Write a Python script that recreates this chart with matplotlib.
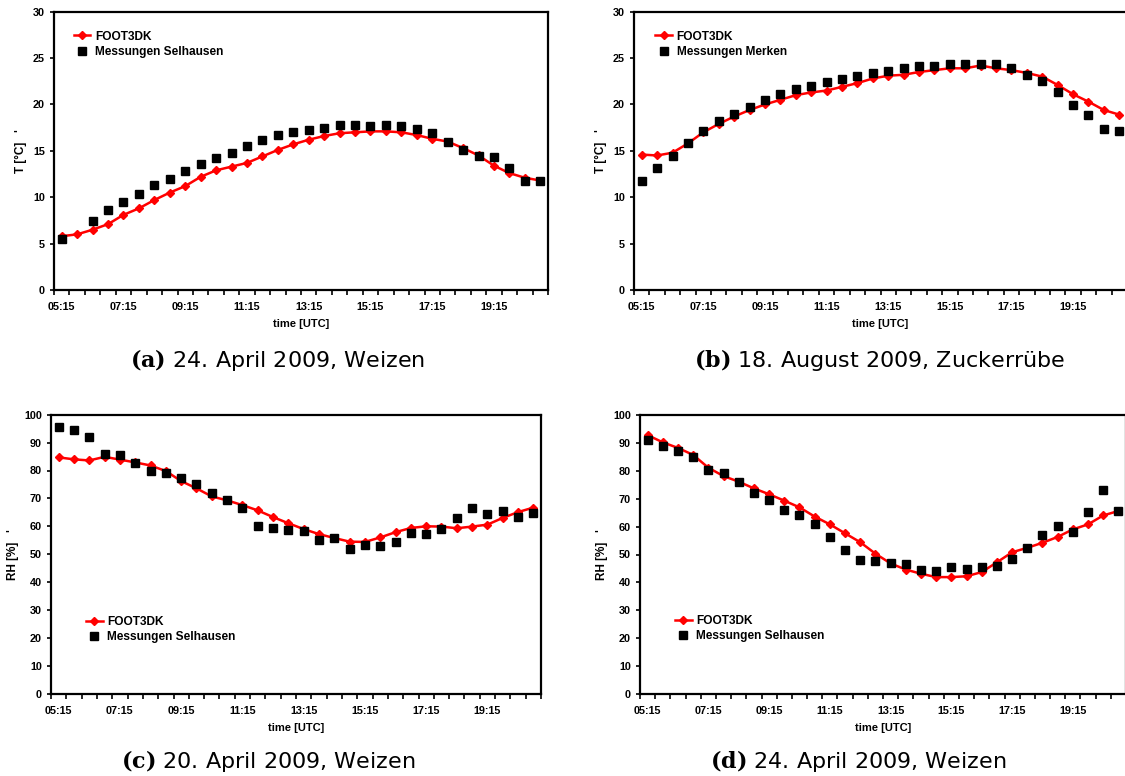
import numpy as np
import matplotlib
matplotlib.use("Agg")
import matplotlib.pyplot as plt

plt.rcParams['font.family'] = ['Liberation Sans', 'DejaVu Sans']
plt.rcParams['mathtext.fontset'] = 'dejavuserif'

times = ['05:15', '05:45', '06:15', '06:45', '07:15', '07:45', '08:15', '08:45',
         '09:15', '09:45', '10:15', '10:45', '11:15', '11:45', '12:15', '12:45',
         '13:15', '13:45', '14:15', '14:45', '15:15', '15:45', '16:15', '16:45',
         '17:15', '17:45', '18:15', '18:45', '19:15', '19:45', '20:15', '20:45']

# (a) 24. April 2009, temperature
t_a_foot = [5.8, 6.0, 6.5, 7.1, 8.1, 8.8, 9.7, 10.5, 11.2, 12.2, 12.9, 13.3, 13.7, 14.4, 15.1, 15.7,
            16.2, 16.6, 16.9, 17.0, 17.1, 17.1, 17.0, 16.7, 16.3, 16.0, 15.3, 14.5, 13.4, 12.6, 12.1, 11.8]
t_a_meas = [5.5, np.nan, 7.4, 8.6, 9.5, 10.4, 11.3, 12.0, 12.8, 13.6, 14.2, 14.8, 15.5, 16.2, 16.7, 17.0,
            17.2, 17.5, 17.8, 17.8, 17.7, 17.8, 17.7, 17.4, 16.9, 16.0, 15.1, 14.4, 14.3, 13.2, 11.7, 11.8]

# (b) 18. August 2009, temperature
t_b_foot = [14.6, 14.5, 14.8, 15.8, 17.0, 17.9, 18.7, 19.4, 20.0, 20.5, 21.0, 21.3, 21.5, 21.9, 22.3, 22.8,
            23.1, 23.2, 23.5, 23.7, 23.9, 23.9, 24.2, 23.9, 23.7, 23.4, 23.0, 22.1, 21.1, 20.3, 19.4, 18.9]
t_b_meas = [11.8, 13.1, 14.4, 15.8, 17.1, 18.2, 19.0, 19.7, 20.5, 21.1, 21.7, 22.0, 22.4, 22.7, 23.1, 23.4,
            23.6, 23.9, 24.2, 24.2, 24.4, 24.4, 24.4, 24.4, 23.9, 23.2, 22.5, 21.3, 19.9, 18.9, 17.4, 17.1]

# (c) 20. April 2009, relative humidity
rh_c_foot = [84.7, 84.0, 83.6, 84.9, 83.9, 82.9, 81.8, 79.8, 76.2, 73.6, 70.7, 69.3, 67.6, 65.7, 63.3, 61.1,
             59.0, 57.2, 55.8, 54.5, 54.4, 56.0, 57.9, 59.4, 60.0, 59.9, 59.3, 59.9, 60.6, 63.0, 65.1, 66.7]
rh_c_meas = [95.6, 94.6, 92.0, 86.0, 85.7, 82.7, 79.7, 79.0, 77.2, 75.3, 71.9, 69.4, 66.4, 60.0, 59.5, 58.7,
             58.3, 55.1, 55.7, 51.7, 53.2, 53.0, 54.5, 57.6, 57.2, 59.0, 63.0, 66.4, 64.4, 65.5, 63.4, 64.6]

# (d) 24. April 2009, relative humidity
rh_d_foot = [92.8, 90.2, 88.2, 85.7, 81.1, 78.1, 76.1, 73.7, 71.6, 69.3, 66.9, 63.6, 60.8, 57.6, 54.4, 50.3,
             46.8, 44.6, 43.1, 41.9, 41.9, 42.2, 43.7, 47.2, 50.8, 52.4, 54.2, 56.3, 59.0, 60.8, 64.0, 65.6]
rh_d_meas = [91.0, 88.9, 87.1, 84.9, 80.2, 79.1, 76.0, 72.2, 69.4, 65.9, 64.0, 60.9, 56.4, 51.6, 48.0, 47.6,
             47.1, 46.6, 44.6, 44.0, 45.4, 44.9, 45.6, 45.9, 48.3, 52.4, 56.9, 60.2, 58.2, 65.4, 73.1, 65.6]

W, H = 1125, 776
fig = plt.figure(figsize=(W / 100, H / 100), dpi=100)


def box(l, r, t, b):
    return [l / W, 1 - b / H, (r - l) / W, (b - t) / H]


def panel(pos, model, meas, meas_name, ylabel, ymax, ystep, leg_xy):
    ax = fig.add_axes(pos)
    x = np.arange(len(times))
    ax.plot(x, model, color='#ff0000', lw=1.8, marker='D', ms=3.8, label='FOOT3DK')
    ax.plot(x, meas, ls='none', marker='s', ms=5.8, color='black', label=meas_name)
    ax.set_xlim(-0.5, len(times) - 0.5)
    ax.set_ylim(0, ymax)
    ax.set_yticks(np.arange(0, ymax + 1, ystep))
    ax.set_xticks(np.arange(-0.5, len(times), 1))
    ax.set_xticklabels([])
    ax.set_xticks(x[::4], minor=True)
    ax.set_xticklabels(times[::4], minor=True)
    ax.tick_params(axis='x', which='major', direction='out', length=3.5, width=1.2)
    ax.tick_params(axis='x', which='minor', length=0, pad=9, labelsize=7.8)
    ax.tick_params(axis='y', direction='out', length=3, width=1.2, pad=3.5, labelsize=7.8)
    for lab in ax.get_xticklabels(minor=True) + ax.get_yticklabels():
        lab.set_fontweight('bold')
    for s in ax.spines.values():
        s.set_linewidth(1.6)
    ax.set_xlabel('time [UTC]', fontsize=8, fontweight='bold', labelpad=5)
    ax.set_ylabel(ylabel, fontsize=8.5, fontweight='bold', labelpad=4)
    ax.legend(loc='upper left', bbox_to_anchor=leg_xy, frameon=False,
              prop={'size': 8.6, 'weight': 'bold'}, handlelength=1.4, handletextpad=0.4,
              labelspacing=0.28, borderpad=0, borderaxespad=0)
    return ax


panel(box(54, 548, 11.7, 290), t_a_foot, t_a_meas, 'Messungen Selhausen',
      "T [°C]   '", 30, 5, (0.04, 0.932))
panel(box(634, 1127, 11.7, 290), t_b_foot, t_b_meas, 'Messungen Merken',
      "T [°C]   '", 30, 5, (0.043, 0.932))
panel(box(51, 541, 414.7, 693.7), rh_c_foot, rh_c_meas, 'Messungen Selhausen',
      "RH [%]   '", 100, 10, (0.071, 0.279))
panel(box(640, 1126, 415, 694), rh_d_foot, rh_d_meas, 'Messungen Selhausen',
      "RH [%]   '", 100, 10, (0.072, 0.283))

captions = [r'$\mathbf{(a)}$ 24. April 2009, Weizen',
            r'$\mathbf{(b)}$ 18. August 2009, Zuckerrübe',
            r'$\mathbf{(c)}$ 20. April 2009, Weizen',
            r'$\mathbf{(d)}$ 24. April 2009, Weizen']
cap_xy = [(278, 360), (880, 360), (268, 761), (858, 761)]
for txt, (cx, cy) in zip(captions, cap_xy):
    fig.text(cx / W, 1 - cy / H, txt, ha='center', va='center', fontsize=16,
             family='DejaVu Sans', fontweight='normal')

fig.savefig('out.png', dpi=100)
